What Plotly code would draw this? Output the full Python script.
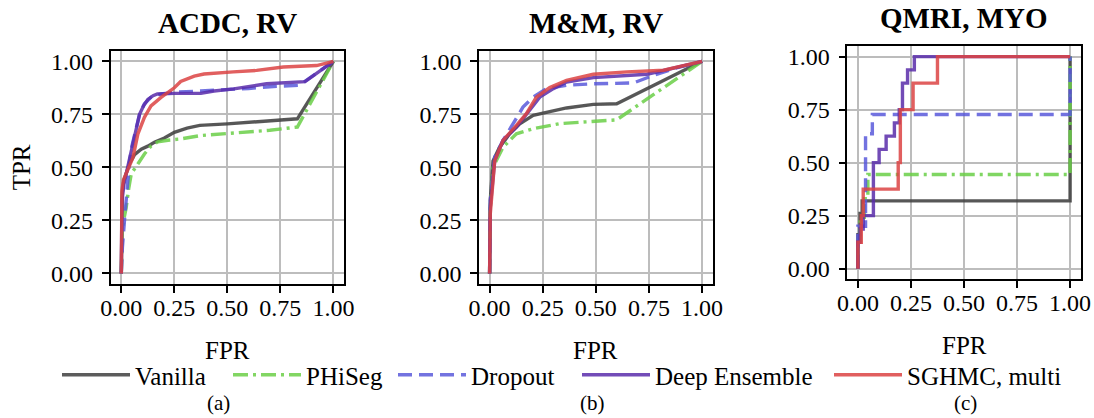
import plotly.graph_objects as go

# ---------------- data ----------------
methods = ["Vanilla", "PHiSeg", "Dropout", "Deep Ensemble", "SGHMC, multi"]
titles = ["ACDC, RV", "M&M, RV", "QMRI, MYO"]
captions = ["(a)", "(b)", "(c)"]
tick_vals = [0.0, 0.25, 0.5, 0.75, 1.0]
tick_text = ["0.00", "0.25", "0.50", "0.75", "1.00"]

# ACDC, RV
acdc_vanilla_fpr = [0, 0.002, 0.005, 0.012, 0.023, 0.04, 0.0625, 0.094, 0.125, 0.156, 0.203, 0.25, 0.31, 0.37, 0.5, 0.6, 0.7, 0.83, 1.0]
acdc_vanilla_tpr = [0, 0.25, 0.38, 0.44, 0.47, 0.52, 0.56, 0.586, 0.60, 0.618, 0.638, 0.665, 0.685, 0.698, 0.705, 0.712, 0.718, 0.729, 1.0]
acdc_phiseg_fpr = [0, 0.005, 0.015, 0.023, 0.035, 0.047, 0.078, 0.109, 0.14, 0.172, 0.22, 0.28, 0.375, 0.48, 0.6, 0.7, 0.83, 1.0]
acdc_phiseg_tpr = [0, 0.2, 0.27, 0.31, 0.4, 0.47, 0.516, 0.563, 0.60, 0.62, 0.628, 0.634, 0.65, 0.657, 0.668, 0.675, 0.69, 1.0]
acdc_dropout_fpr = [0, 0.005, 0.016, 0.028, 0.039, 0.05, 0.0625, 0.086, 0.109, 0.14, 0.1875, 0.25, 0.375, 0.5, 0.6, 0.7, 0.84, 1.0]
acdc_dropout_tpr = [0, 0.12, 0.264, 0.42, 0.53, 0.6, 0.657, 0.75, 0.80, 0.83, 0.846, 0.854, 0.86, 0.865, 0.872, 0.88, 0.887, 1.0]
acdc_ensemble_fpr = [0, 0.003, 0.012, 0.023, 0.047, 0.0625, 0.086, 0.105, 0.125, 0.15, 0.17, 0.25, 0.375, 0.4375, 0.53, 0.685, 0.866, 1.0]
acdc_ensemble_tpr = [0, 0.34, 0.42, 0.47, 0.58, 0.657, 0.75, 0.79, 0.82, 0.838, 0.846, 0.849, 0.849, 0.86, 0.87, 0.894, 0.904, 1.0]
acdc_sghmc_fpr = [0, 0.003, 0.01, 0.023, 0.055, 0.078, 0.109, 0.14, 0.1875, 0.25, 0.28, 0.344, 0.39, 0.528, 0.638, 0.764, 0.921, 1.0]
acdc_sghmc_tpr = [0, 0.39, 0.44, 0.47, 0.547, 0.657, 0.736, 0.79, 0.83, 0.875, 0.905, 0.93, 0.94, 0.95, 0.957, 0.973, 0.98, 1.0]

# M&M, RV
mm_vanilla_fpr = [0, 0.003, 0.016, 0.047, 0.094, 0.142, 0.205, 0.268, 0.362, 0.488, 0.598, 1.0]
mm_vanilla_tpr = [0, 0.343, 0.53, 0.595, 0.658, 0.705, 0.745, 0.76, 0.78, 0.797, 0.80, 1.0]
mm_phiseg_fpr = [0, 0.003, 0.016, 0.063, 0.126, 0.205, 0.33, 0.488, 0.598, 1.0]
mm_phiseg_tpr = [0, 0.31, 0.50, 0.595, 0.658, 0.682, 0.706, 0.718, 0.724, 1.0]
mm_dropout_fpr = [0, 0.003, 0.024, 0.063, 0.11, 0.157, 0.205, 0.268, 0.362, 0.488, 0.677, 0.772, 0.866, 1.0]
mm_dropout_tpr = [0, 0.343, 0.548, 0.627, 0.705, 0.784, 0.831, 0.871, 0.887, 0.894, 0.898, 0.934, 0.965, 1.0]
mm_ensemble_fpr = [0, 0.003, 0.024, 0.063, 0.126, 0.189, 0.236, 0.30, 0.362, 0.488, 0.614, 0.74, 0.803, 1.0]
mm_ensemble_tpr = [0, 0.31, 0.532, 0.627, 0.69, 0.768, 0.831, 0.871, 0.902, 0.923, 0.929, 0.939, 0.953, 1.0]
mm_sghmc_fpr = [0, 0.003, 0.024, 0.063, 0.126, 0.173, 0.22, 0.283, 0.362, 0.488, 0.646, 0.772, 0.819, 1.0]
mm_sghmc_tpr = [0, 0.28, 0.532, 0.627, 0.698, 0.753, 0.831, 0.876, 0.91, 0.939, 0.95, 0.953, 0.958, 1.0]

# QMRI, MYO (step curves)
qmri_vanilla_fpr = [0, 0, 0.01, 0.02, 1.0, 1.0]
qmri_vanilla_tpr = [0, 0.16, 0.26, 0.32, 0.32, 1.0]
qmri_phiseg_fpr = [0, 0, 0.01, 0.03, 0.047, 1.0, 1.0]
qmri_phiseg_tpr = [0, 0.11, 0.22, 0.33, 0.444, 0.444, 1.0]
qmri_dropout_fpr = [0, 0, 0.036, 0.068, 1.0, 1.0]
qmri_dropout_tpr = [0, 0.2, 0.636, 0.727, 0.727, 1.0]
qmri_ensemble_fpr = [0, 0, 0.01, 0.025, 0.073, 0.1, 0.133, 0.172, 0.195, 0.21, 0.234, 0.266, 1.0]
qmri_ensemble_tpr = [0, 0.125, 0.1875, 0.25, 0.5, 0.5625, 0.625, 0.6875, 0.75, 0.875, 0.9375, 1.0, 1.0]
qmri_sghmc_fpr = [0, 0, 0.016, 0.025, 0.19, 0.2, 0.26, 0.375, 1.0]
qmri_sghmc_tpr = [0, 0.125, 0.25, 0.375, 0.5, 0.75, 0.875, 1.0, 1.0]

panels = [
    [(acdc_vanilla_fpr, acdc_vanilla_tpr), (acdc_phiseg_fpr, acdc_phiseg_tpr),
     (acdc_dropout_fpr, acdc_dropout_tpr), (acdc_ensemble_fpr, acdc_ensemble_tpr),
     (acdc_sghmc_fpr, acdc_sghmc_tpr)],
    [(mm_vanilla_fpr, mm_vanilla_tpr), (mm_phiseg_fpr, mm_phiseg_tpr),
     (mm_dropout_fpr, mm_dropout_tpr), (mm_ensemble_fpr, mm_ensemble_tpr),
     (mm_sghmc_fpr, mm_sghmc_tpr)],
    [(qmri_vanilla_fpr, qmri_vanilla_tpr), (qmri_phiseg_fpr, qmri_phiseg_tpr),
     (qmri_dropout_fpr, qmri_dropout_tpr), (qmri_ensemble_fpr, qmri_ensemble_tpr),
     (qmri_sghmc_fpr, qmri_sghmc_tpr)],
]
panel_shapes = ["linear", "linear", "hv"]

# ---------------- style ----------------
colors = ["#3f3f3f", "#6ccf48", "#5a5adb", "#5a2dab", "#dc4343"]
dashes = ["solid", "15px,5px,3px,5px", "14px,7px", "solid", "solid"]
SERIF = "Liberation Serif"
W, H = 1094, 418

# axes boxes in pixels: (left, right, top, bottom)
boxes = [(110.7, 344.0, 50.7, 284.0), (479.0, 712.7, 50.7, 284.0), (847.3, 1080.7, 46.0, 279.3)]
# left edge (px) of each legend entry along the bottom row
legend_left = [57, 228, 393, 577, 829]
legend_ids = ["legend", "legend2", "legend3", "legend4", "legend5"]


def fx(px):
    return px / W


def fy(py):
    return 1 - py / H


fig = go.Figure()
for p, curves in enumerate(panels):
    suffix = "" if p == 0 else str(p + 1)
    for m, (xs, ys) in enumerate(curves):
        fig.add_trace(go.Scatter(
            x=xs, y=ys, mode="lines", name=methods[m],
            line=dict(color=colors[m], width=3.4, dash=dashes[m], shape=panel_shapes[p]),
            opacity=0.85, legendgroup=methods[m], showlegend=(p == 0),
            legend=legend_ids[m],
            xaxis="x" + suffix, yaxis="y" + suffix, hoverinfo="skip",
        ))

axis_common = dict(
    range=[-0.05, 1.05], tickvals=tick_vals, ticktext=tick_text,
    showline=True, linecolor="black", linewidth=1.6, mirror=True,
    ticks="outside", ticklen=7, tickwidth=1.5, tickcolor="black",
    showgrid=True, gridcolor="#bdbdbd", gridwidth=1.6, zeroline=False,
    tickfont=dict(family=SERIF, size=24, color="black"), fixedrange=True,
)

layout = dict(
    width=W, height=H, margin=dict(l=0, r=0, t=0, b=0),
    template="none", showlegend=True,
    paper_bgcolor="white", plot_bgcolor="white",
    font=dict(family=SERIF, color="black", size=24),
)
for m, lid in enumerate(legend_ids):
    layout[lid] = dict(orientation="h", x=fx(legend_left[m]), xanchor="left",
                       y=fy(375), yanchor="middle", visible=True,
                       font=dict(family=SERIF, size=25, color="black"),
                       bgcolor="rgba(0,0,0,0)", itemwidth=68)

annotations = []
for p, (l, r, t, b) in enumerate(boxes):
    suffix = "" if p == 0 else str(p + 1)
    layout["xaxis" + suffix] = dict(axis_common, domain=[fx(l), fx(r)], anchor="y" + suffix,
                                    ticklabelstandoff=-6)
    layout["yaxis" + suffix] = dict(axis_common, domain=[fy(b), fy(t)], anchor="x" + suffix,
                                    ticklabelstandoff=4)
    cx = (l + r) / 2
    annotations.append(dict(text="<b>" + titles[p] + "</b>", x=fx(cx), y=fy(t - 28),
                            xref="paper", yref="paper", xanchor="center", yanchor="middle",
                            showarrow=False, font=dict(family=SERIF, size=29)))
    annotations.append(dict(text="FPR", x=fx(cx), y=fy(b + 66), xref="paper", yref="paper",
                            xanchor="center", yanchor="middle", showarrow=False,
                            font=dict(family=SERIF, size=25)))
caption_x = [218, 592, 965]
for p, cap in enumerate(captions):
    annotations.append(dict(text=cap, x=fx(caption_x[p]), y=fy(403), xref="paper", yref="paper",
                            xanchor="center", yanchor="middle", showarrow=False,
                            font=dict(family=SERIF, size=21)))
annotations.append(dict(text="TPR", x=fx(21), y=fy(167.3), xref="paper", yref="paper",
                        xanchor="center", yanchor="middle", textangle=-90, showarrow=False,
                        font=dict(family=SERIF, size=25)))
layout["annotations"] = annotations

fig.update_layout(**layout)
fig.write_html("out.html")
